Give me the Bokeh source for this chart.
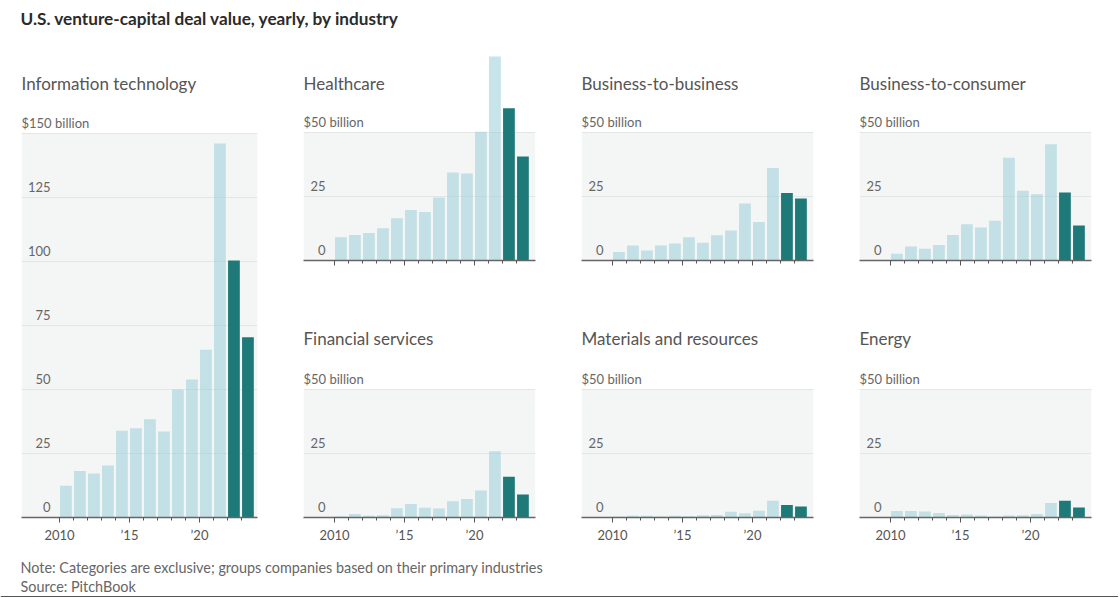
from bokeh.plotting import figure
from bokeh.layouts import row, column
from bokeh.models import Range1d, FixedTicker, BoxAnnotation, ColumnDataSource
from bokeh.core.properties import value
from bokeh.embed import file_html
from bokeh.resources import INLINE

# ---------------- data ----------------
years = list(range(2010, 2024))
highlight_years = [2022, 2023]

it_values = [12.4, 18.2, 17.2, 20.3, 33.9, 34.9, 38.4, 33.6, 50.0, 53.9, 65.5, 146.1, 100.4, 70.4]
hc_values = [9.1, 10.0, 10.7, 12.6, 16.5, 19.7, 18.9, 24.6, 34.4, 34.0, 50.3, 79.7, 59.5, 40.6]
b2b_values = [3.3, 5.9, 3.9, 5.9, 6.6, 9.1, 6.9, 9.9, 11.7, 22.3, 15.0, 36.1, 26.4, 24.2]
b2c_values = [2.6, 5.5, 4.6, 6.1, 10.0, 14.2, 12.9, 15.5, 40.1, 27.2, 25.9, 45.4, 26.6, 13.7]
fs_values = [0.4, 1.4, 0.7, 0.9, 3.6, 5.3, 3.8, 3.5, 6.3, 7.2, 10.5, 25.9, 15.9, 9.0]
mr_values = [0.3, 0.7, 0.7, 0.4, 0.7, 0.5, 0.9, 1.0, 2.2, 1.7, 2.6, 6.5, 4.9, 4.3]
en_values = [2.5, 2.5, 2.3, 1.8, 1.0, 1.2, 0.8, 0.4, 0.8, 0.9, 1.4, 5.7, 6.5, 3.9]

it_ticks = [0, 25, 50, 75, 100, 125, 150]
small_ticks = [0, 25, 50]
x_major = [2010, 2015, 2020]
x_labels = {2010: "2010", 2015: "\u201915", 2020: "\u201920"}

title_text = "U.S. venture-capital deal value, yearly, by industry"
note_text = "Note: Categories are exclusive; groups companies based on their primary industries"
source_text = "Source: PitchBook"

# ---------------- style ----------------
FONT = value("Lato")
LIGHT = "#a0d2da"
DARK = "#1e7a78"
BG = "#f4f5f5"
GRID = "#e3e6e6"
PX_YEAR = 14.0
PX_UNIT = 128.0 / 50.0


def panel(name, vals, yticks, fig_w, fig_h, bl, br, bt, bb, lead, title_off,
          num_off, show_labels):
    frame_w = fig_w - bl - br
    frame_h = fig_h - bt - bb
    xs = 2010 - lead / PX_YEAR
    xe = xs + frame_w / PX_YEAR
    ye = frame_h / PX_UNIT
    p = figure(width=fig_w, height=fig_h, x_range=Range1d(xs, xe),
               y_range=Range1d(0, ye), y_axis_type=None,
               output_backend="svg", toolbar_location=None, tools="",
               min_border_left=bl, min_border_right=br,
               min_border_top=bt, min_border_bottom=bb)
    p.outline_line_color = None
    p.background_fill_color = "white"
    p.border_fill_color = "white"
    p.xgrid.visible = False

    top = yticks[-1]
    p.add_layout(BoxAnnotation(bottom=0, top=top, fill_color=BG, fill_alpha=1,
                               line_alpha=0, level="underlay"))
    gl = yticks[1:]
    p.segment(x0=[xs] * len(gl), x1=[xe] * len(gl), y0=gl, y1=gl,
              line_color=GRID, line_width=1.2)

    src = ColumnDataSource(dict(
        x=[y + 0.46 for y in years],
        top=vals,
        color=[DARK if y in highlight_years else LIGHT for y in years],
        alpha=[1.0 if y in highlight_years else 0.6 for y in years],
    ))
    p.vbar(x="x", top="top", width=0.84, fill_color="color", fill_alpha="alpha",
           line_color=None, source=src)

    lab = yticks[:-1]
    p.text(x=[xs] * len(lab), y=lab, text=[str(t) for t in lab],
           x_offset=num_off, y_offset=-11, text_align="right",
           text_baseline="middle", text_font=FONT, text_font_size="13px",
           text_color="#666666")
    p.text(x=[xs], y=[top], text=["$%d billion" % top], y_offset=-11,
           text_align="left", text_baseline="middle", text_font=FONT,
           text_font_size="13px", text_color="#666666")
    p.text(x=[xs], y=[ye], text=[name], y_offset=title_off,
           text_align="left", text_baseline="middle", text_font=FONT,
           text_font_size="17px", text_color="#555555")

    ax = p.xaxis[0]
    ax.ticker = FixedTicker(ticks=x_major, minor_ticks=years)
    ax.major_label_overrides = x_labels if show_labels else {k: "" for k in x_major}
    ax.axis_line_color = "#666666"
    ax.axis_line_width = 1.5
    ax.major_tick_line_color = "#555555"
    ax.major_tick_in = 0
    ax.major_tick_out = 5
    ax.minor_tick_line_color = "#555555"
    ax.minor_tick_in = 0
    ax.minor_tick_out = 3
    ax.major_label_standoff = 4
    ax.major_label_text_font = "Lato"
    ax.major_label_text_font_size = "13px"
    ax.major_label_text_color = "#555555"
    return p


# IT: tall panel
it = panel("Information technology", it_values, it_ticks, 283, 500, 21, 26, 17, 31,
           38, 18, 29, True)

# top row small panels
hc = panel("Healthcare", hc_values, small_ticks, 278, 256, 20, 26, 4, 44, 31, 31, 22, False)
b2b = panel("Business-to-business", b2b_values, small_ticks, 278, 256, 20, 26, 4, 44, 31, 31, 22, False)
b2c = panel("Business-to-consumer", b2c_values, small_ticks, 272, 256, 20, 20, 4, 44, 31, 31, 22, False)

# bottom row small panels
fs = panel("Financial services", fs_values, small_ticks, 278, 244, 20, 26, 16, 31, 31, 18, 22, True)
mr = panel("Materials and resources", mr_values, small_ticks, 278, 244, 20, 26, 16, 31, 31, 18, 22, True)
en = panel("Energy", en_values, small_ticks, 272, 244, 20, 20, 16, 31, 31, 18, 22, True)

W = 1118


def plain(h):
    f = figure(width=W, height=h, x_range=Range1d(0, W), y_range=Range1d(0, h),
               x_axis_type=None, y_axis_type=None, output_backend="svg",
               toolbar_location=None, tools="", min_border=0)
    f.outline_line_color = None
    f.background_fill_color = "white"
    f.border_fill_color = "white"
    return f


header = plain(48)
header.text(x=[20], y=[30], text=[title_text], text_align="left",
            text_baseline="middle", text_font=FONT, text_font_size="17.2px",
            text_font_style="bold", text_color="#2b2b2b")

footer = plain(49)
footer.text(x=[20, 20], y=[30, 11], text=[note_text, source_text], text_align="left",
            text_baseline="middle", text_font=FONT, text_font_size="14.4px",
            text_color="#666666")
footer.segment(x0=[0], x1=[W], y0=[0.8], y1=[0.8], line_color="#555555", line_width=1.6)

layout = column(header,
                row(it, column(row(hc, b2b, b2c), row(fs, mr, en))),
                footer)

open("out.html", "w").write(file_html(layout, INLINE))
